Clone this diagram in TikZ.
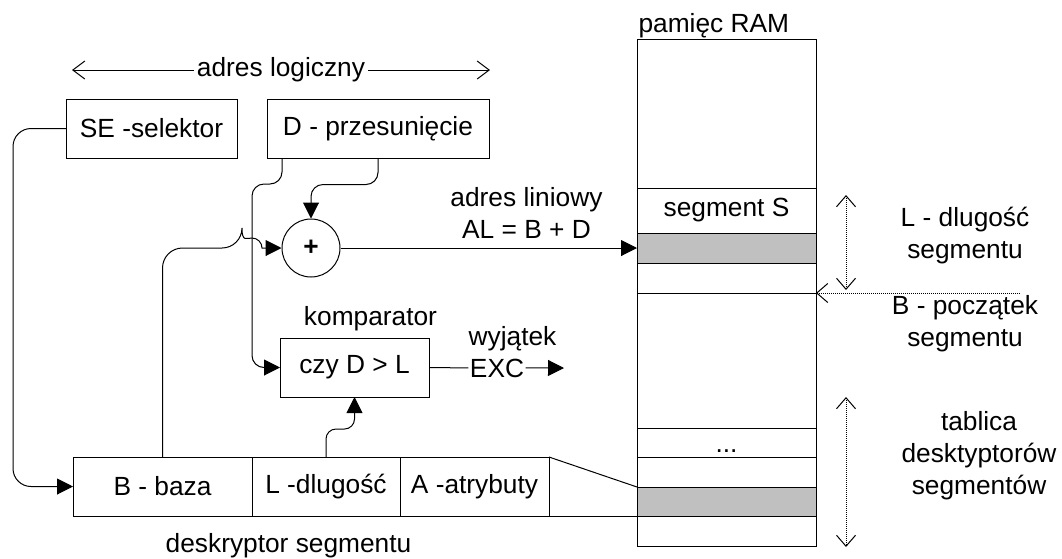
\documentclass[tikz,border=0pt]{standalone}
\usepackage{fontspec}
\setmainfont{Liberation Sans}
\usetikzlibrary{arrows.meta, positioning, calc}
\definecolor{ramgray}{RGB}{192,192,192}

\begin{document}
\begin{tikzpicture}[
    x=1pt, y=-1pt,
    line width=1pt,
    font=\fontsize{26.3}{32}\selectfont,
    box/.style={rectangle, draw, minimum height=59pt, inner sep=0pt, outer sep=0pt, align=center},
    cell/.style={rectangle, draw, minimum width=179pt, inner sep=0pt, outer sep=0pt},
    cell_gray/.style={cell, fill=ramgray},
    title/.style={align=center, inner sep=0pt},
    arrow/.style={-{Triangle[length=16pt, width=16pt]}},
    open_arrow/.style={{Straight Barb[length=12pt, width=18pt]}-{Straight Barb[length=12pt, width=18pt]}},
    dim/.style={densely dotted, {Straight Barb[length=11pt, width=19pt]}-{Straight Barb[length=11pt, width=19pt]}},
    dim_in/.style={densely dotted, -{Straight Barb[length=11pt, width=19pt]}}
]
\useasboundingbox (0,0) rectangle (1062,558);

% --- Logical address ---
\node[box, minimum width=171pt] (sel) at (151.5,128.5) {SE -selektor};
\node[box, minimum width=222pt, right=30pt of sel] (disp) {D - przesunięcie};
\coordinate (log_l) at (72,70);
\coordinate (log_r) at (490,70);
\draw[open_arrow] (log_l) -- node[fill=white, inner sep=3pt] {adres logiczny} (log_r);

% --- Adder and comparator ---
\node[circle, draw, minimum size=58pt, inner sep=0pt, font=\fontsize{26.3}{32}\selectfont\bfseries] (add) at (311,248) {+};
\node[box, minimum width=149pt] (cmp) at (354.5,367.5) {czy D > L};
\node[title, anchor=base] (cmp_title) at (370.5,325) {komparator};
\node[title, anchor=base, inner sep=1pt] (exc) at (497,377) {EXC};
\node[title, anchor=base] (exc_title) at (512.5,345) {wyjątek};
\node[title, anchor=base] (lin_title) at (526.5,238) {adres liniowy\\AL = B + D};

% --- Segment descriptor ---
\node[box, minimum width=179pt] (base) at (162.5,486.5) {B - baza};
\node[box, minimum width=148pt, right=0pt of base] (lng) {L -dlugość};
\node[box, minimum width=149pt, right=0pt of lng] (atr) {A -atrybuty};
\node[title, anchor=base] (desc_title) at (288.5,552) {deskryptor segmentu};

% --- RAM ---
\node[cell, minimum height=507pt] (ram) at (726.5,292.5) {};
\node[title, anchor=base west] (ram_title) at (638,32) {pamięc RAM};
\node[cell, minimum height=45pt] (seg) at (726.5,210.5) {segment S};
\node[cell_gray, minimum height=30pt, below=0pt of seg] (seg_base) {};
\node[cell, minimum height=30pt, below=0pt of seg_base] (seg_end) {};
\node[cell, minimum height=29pt, text height=19pt, text depth=0pt] (tab_dots) at (726.5,442.5) {...};
\node[cell, minimum height=30pt, below=0pt of tab_dots] (tab_next) {};
\node[cell_gray, minimum height=29pt, below=0pt of tab_next] (tab_sel) {};

% --- Side labels ---
\node[title, anchor=base] (len_title) at (965,258) {L - dlugość\\segmentu};
\node[title, anchor=base] (beg_title) at (965,346) {B - początek\\segmentu};
\node[title, anchor=base] (tab_title) at (979,494) {tablica\\desktyptorów\\segmentów};

% --- Connectors ---
\draw[arrow, rounded corners=18] (sel.west) -| ($(base.west)+(-60,0)$) -- (base.west);

\coordinate (d_turn) at ($(disp.south west)+(-15,26)$);
\draw[arrow, rounded corners=12] ($(disp.south west)+(15,0)$) |- (d_turn) |- (cmp.west);
\draw[arrow, rounded corners=12] (disp.south) |- ($(add.north)+(0,-34)$) -- (add.north);

\coordinate (hop) at (d_turn |- add.west);
\draw[arrow] (base.north) [rounded corners=20] |- ($(hop)+(-10,0)$) [sharp corners]
    arc[start angle=180, end angle=360, radius=10] -- (add.west);
\draw[arrow, rounded corners=10] (lng.north) -- ++(0,-28) -| (cmp.south);

\draw[arrow] (add.east) -- (seg_base.west);

\draw (cmp.east) -- (exc.west);
\coordinate (exc_out) at (564,368);
\draw[arrow] (exc.east) -- (exc_out);

\draw (atr.north east) -- (tab_sel.north west);
\draw (atr.south east) -- (tab_sel.south west);

% --- Dimension arrows ---
\coordinate (len_top) at (846,195);
\coordinate (len_bot) at (846,290);
\draw[dim] (len_top) -- (len_bot);
\coordinate (beg_in) at (1020,293);
\draw[dim_in] (beg_in) -- (seg_end.south east);
\coordinate (tab_top) at (846,397);
\coordinate (tab_bot) at (846,547);
\draw[dim] (tab_top) -- (tab_bot);

\end{tikzpicture}
\end{document}
